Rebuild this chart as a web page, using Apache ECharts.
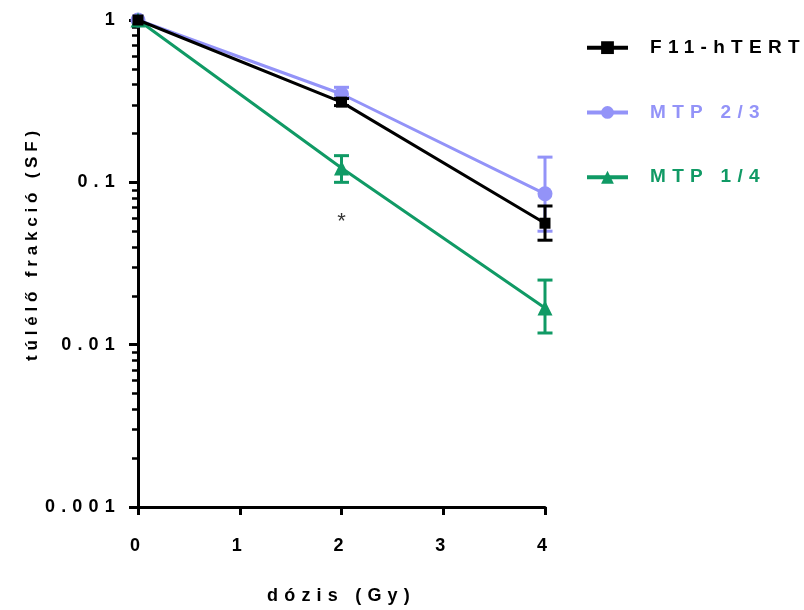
<!DOCTYPE html>
<html><head><meta charset="utf-8">
<script src="https://cdn.jsdelivr.net/npm/echarts@6/dist/echarts.min.js"></script>
<style>html,body{margin:0;padding:0;background:#fff}#c{width:804px;height:610px}</style>
</head><body><div id="c"></div>
<script>
(function(){
  var P = CanvasRenderingContext2D.prototype;
  var map = { 17: 4.8, 18: 6.2, 19: 6.3, 22: 0 };
  function sp(ctx){
    var m=/(\d+(?:\.\d+)?)px/.exec(ctx.font);
    if(m && ('letterSpacing' in ctx)){
      var s = parseFloat(m[1]);
      var v = (s in map) ? map[s] : s*0.3;
      ctx.letterSpacing = v.toFixed(1)+'px';
    }
  }
  ['fillText','strokeText','measureText'].forEach(function(k){ var o=P[k]; P[k]=function(){ sp(this); return o.apply(this, arguments); }; });
})();

const doses = [0, 2, 4];
const seriesNames = ['F11-hTERT', 'MTP 2/3', 'MTP 1/4'];
const f11Mean = [1, 0.312, 0.056];
const f11Low = [1, 0.297, 0.044];
const f11High = [1, 0.328, 0.0715];
const mtp23Mean = [1, 0.35, 0.085];
const mtp23Low = [1, 0.33, 0.05];
const mtp23High = [1, 0.385, 0.143];
const mtp14Mean = [1, 0.1225, 0.0168];
const mtp14Low = [1, 0.100, 0.0118];
const mtp14High = [1, 0.146, 0.025];
const xTicks = [0, 1, 2, 3, 4];
const yTicks = [0.001, 0.01, 0.1, 1];
const yMinorTicks = [0.002,0.003,0.004,0.005,0.006,0.007,0.008,0.009,
                     0.02,0.03,0.04,0.05,0.06,0.07,0.08,0.09,
                     0.2,0.3,0.4,0.5,0.6,0.7,0.8,0.9];
const annotations = [[2, 0.057, '*']];

const colors = ['#000000', '#9393F8', '#109A65'];
const FONT = "'Liberation Sans', Arial, sans-serif";

function errSeries(name, low, high, color, z) {
  return {
    type: 'custom', name: name, z: z, silent: true,
    data: doses.map((d, i) => [d, low[i], high[i]]),
    renderItem: function (params, api) {
      const x = api.value(0);
      if (api.value(1) === api.value(2)) return null;
      const lo = api.coord([x, api.value(1)]);
      const hi = api.coord([x, api.value(2)]);
      const w = 7.5;
      const st = { stroke: color, lineWidth: 3 };
      return { type: 'group', children: [
        { type: 'line', shape: { x1: lo[0], y1: lo[1], x2: hi[0], y2: hi[1] }, style: st },
        { type: 'line', shape: { x1: lo[0] - w, y1: lo[1], x2: lo[0] + w, y2: lo[1] }, style: st },
        { type: 'line', shape: { x1: hi[0] - w, y1: hi[1], x2: hi[0] + w, y2: hi[1] }, style: st }
      ]};
    }
  };
}
function lineSeries(name, mean, color, symbol, size, z) {
  return {
    type: 'line', name: name, z: z,
    data: doses.map((d, i) => [d, mean[i]]),
    symbol: symbol, symbolSize: size, showSymbol: true,
    itemStyle: { color: color },
    lineStyle: { color: color, width: 3 }
  };
}

const chart = echarts.init(document.getElementById('c'), null, { renderer: 'canvas' });
chart.setOption({
  animation: false,
  backgroundColor: '#fff',
  textStyle: { fontFamily: FONT },
  grid: { left: 138, top: 20, width: 407, height: 487, containLabel: false, outerBoundsMode: 'none' },
  legend: {
    orient: 'vertical', left: 585, top: 35, padding: 0,
    itemWidth: 41, itemHeight: 16, itemGap: 39.5,
    lineStyle: { width: 4 },
    textStyle: { fontFamily: FONT, fontWeight: 'bold', fontSize: 19, padding: [0, 0, 0, 17] },
    data: seriesNames.map((n, i) => ({ name: n, textStyle: { color: colors[i] } }))
  },
  xAxis: {
    type: 'value', min: 0, max: 4, interval: 1,
    name: 'dózis (Gy)', nameLocation: 'middle', nameGap: 77, nameMoveOverlap: false,
    nameTextStyle: { fontFamily: FONT, fontWeight: 'bold', fontSize: 18, color: '#000' },
    axisLine: { show: true, lineStyle: { color: '#000', width: 3 } },
    axisTick: { show: true, length: 8, lineStyle: { color: '#000', width: 3 }, customValues: xTicks },
    axisLabel: { fontFamily: FONT, fontWeight: 'bold', fontSize: 18, color: '#000', margin: 27, customValues: xTicks },
    splitLine: { show: false }
  },
  yAxis: [{
    type: 'log', logBase: 10, min: 0.001, max: 1,
    name: 'túlélő frakció (SF)', nameLocation: 'middle', nameGap: 95, nameMoveOverlap: false,
    nameTextStyle: { fontFamily: FONT, fontWeight: 'bold', fontSize: 17, color: '#000', padding: [0, 0, 0, 40] },
    axisLine: { show: true, lineStyle: { color: '#000', width: 3 } },
    axisTick: { show: true, length: 9, lineStyle: { color: '#000', width: 3 }, customValues: yTicks },
    axisLabel: { fontFamily: FONT, fontWeight: 'bold', fontSize: 18, color: '#000', margin: 17,
      customValues: yTicks, formatter: v => String(+(+v).toPrecision(3)) },
    splitLine: { show: false }
  }, {
    type: 'log', logBase: 10, min: 0.001, max: 1, position: 'left', offset: 0,
    axisLine: { show: false },
    axisTick: { show: true, length: 6, lineStyle: { color: '#000', width: 2.5 }, customValues: yMinorTicks },
    axisLabel: { show: false },
    splitLine: { show: false }
  }],
  series: [
    errSeries('MTP 2/3 err', mtp23Low, mtp23High, colors[1], 2),
    lineSeries('MTP 2/3', mtp23Mean, colors[1], 'circle', 15, 2),
    errSeries('MTP 1/4 err', mtp14Low, mtp14High, colors[2], 3),
    lineSeries('MTP 1/4', mtp14Mean, colors[2], 'triangle', 15, 3),
    errSeries('F11-hTERT err', f11Low, f11High, colors[0], 4),
    lineSeries('F11-hTERT', f11Mean, colors[0], 'rect', 11, 4),
    {
      type: 'scatter', name: 'annot', z: 5, silent: true,
      data: annotations.map(a => ({ value: [a[0], a[1]], label: { formatter: a[2] } })),
      symbolSize: 0,
      label: { show: true, position: 'inside', color: '#000', fontSize: 22, fontFamily: FONT }
    }
  ]
});
</script></body></html>
